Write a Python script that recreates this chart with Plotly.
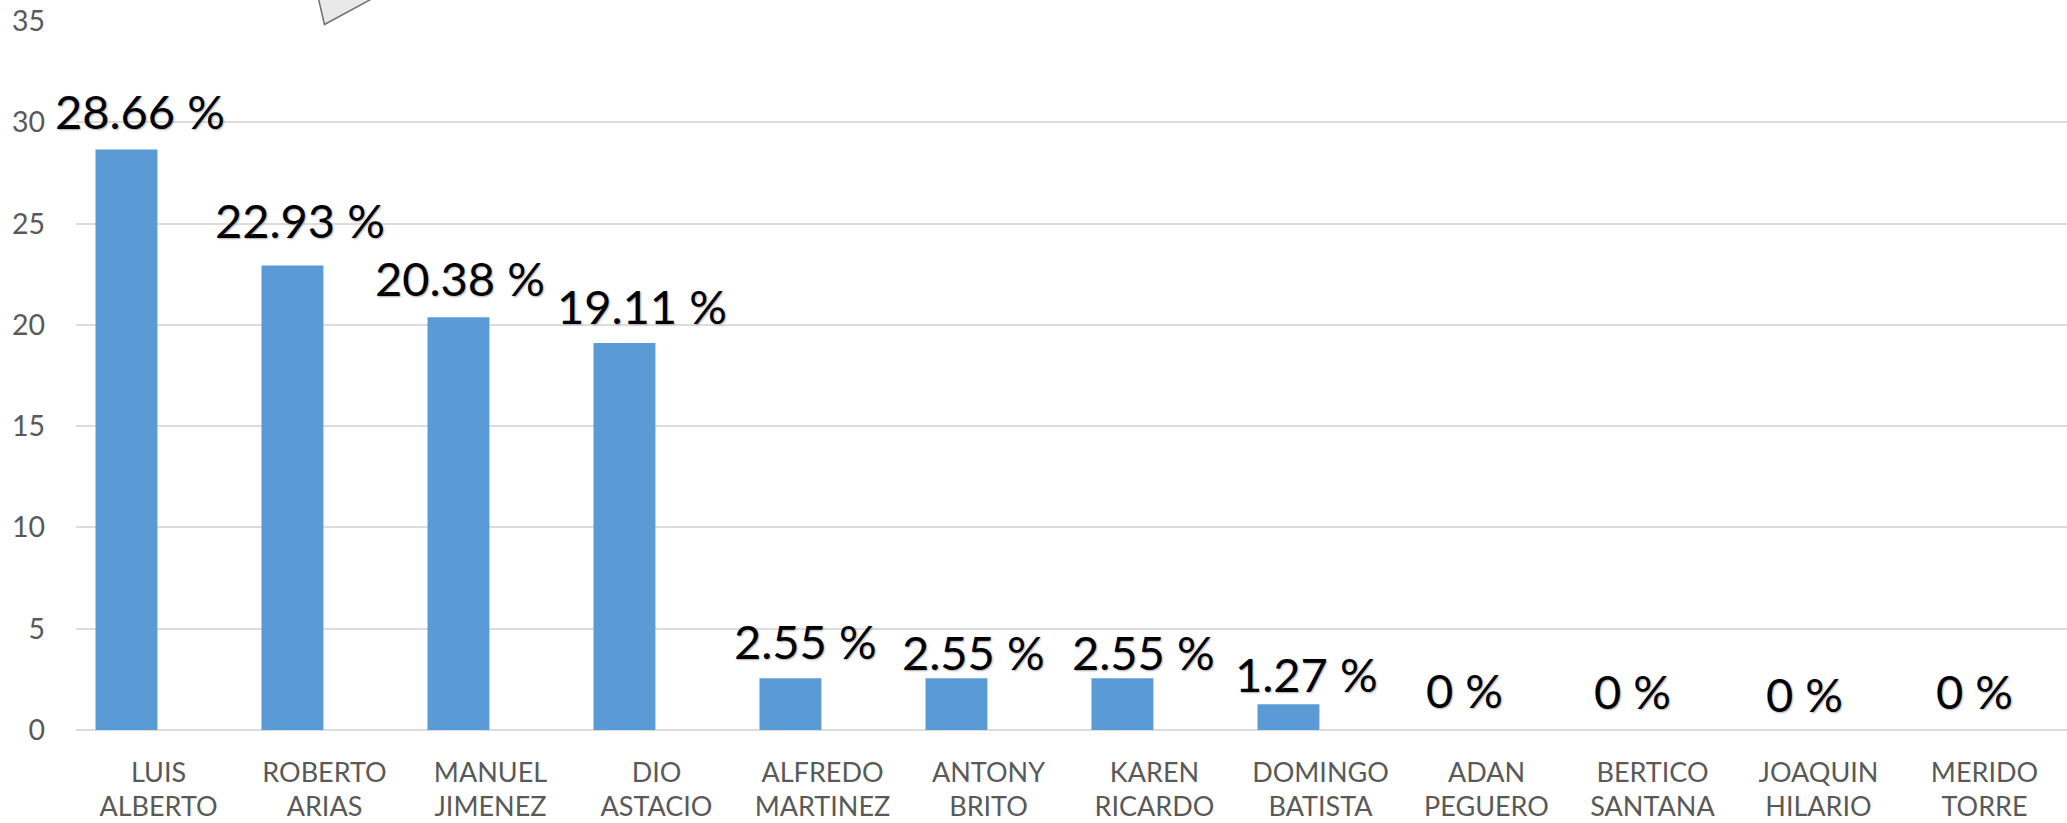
import plotly.graph_objects as go

first_line = ["LUIS", "ROBERTO", "MANUEL", "DIO", "ALFREDO", "ANTONY", "KAREN", "DOMINGO", "ADAN", "BERTICO", "JOAQUIN", "MERIDO"]
second_line = ["ALBERTO", "ARIAS", "JIMENEZ", "ASTACIO", "MARTINEZ", "BRITO", "RICARDO", "BATISTA", "PEGUERO", "SANTANA", "HILARIO", "TORRE"]
values = [28.66, 22.93, 20.38, 19.11, 2.55, 2.55, 2.55, 1.27, 0, 0, 0, 0]
labels = ["28.66 %", "22.93 %", "20.38 %", "19.11 %", "2.55 %", "2.55 %", "2.55 %", "1.27 %", "0 %", "0 %", "0 %", "0 %"]

# layout-only offsets (pixels)
lab_dx = [14, 7.5, 2, 18, 15, 17, 21, 18, 10, 12, 18, 22]
lab_dy = [38, 46, 39.5, 37, 37, 26.5, 26.5, 30.5, 40.5, 39, 36, 39]
TICK_OFFSET = 0.193
L, R, T, B = 75.5, 0, 20.5, 93
W, H = 2067, 823
positions = list(range(12))
tick_pos = [p + TICK_OFFSET for p in positions]
tick_font = dict(size=27, color="#595959")


def px(x, y):
    return (x - L) / (W - L - R), (H - B - y) / (H - B - T)


fig = go.Figure()
fig.add_trace(go.Bar(x=positions, y=values, width=0.373, marker=dict(color="#5B9BD5", line=dict(width=0))))
fig.add_trace(go.Scatter(x=[], y=[], xaxis="x2", showlegend=False))
for i, (v, t) in enumerate(zip(values, labels)):
    fig.add_annotation(x=i, y=v, text=t, showarrow=False, xshift=lab_dx[i], yshift=lab_dy[i], yanchor="middle",
                       font=dict(family="Lato", size=47, color="#000000", shadow="1px 1px 2px #aaa"))

corner = [px(318, -2), px(324, 24), px(372, -2)]
fig.add_shape(type="path", xref="paper", yref="paper", layer="above",
              path="M " + " L ".join(f"{a},{b}" for a, b in corner) + " Z",
              fillcolor="#E9E9E9", line=dict(color="#707070", width=1.5))

x_range = [-0.304, 11.69]
fig.update_layout(
    width=W, height=H, margin=dict(l=L, r=R, t=T, b=B, pad=0, autoexpand=False), paper_bgcolor="white", plot_bgcolor="white",
    showlegend=False, font=dict(family="Lato"),
    xaxis=dict(range=x_range, tickmode="array", tickvals=tick_pos, ticktext=first_line, showgrid=False, zeroline=False,
               ticks="", tickfont=tick_font, showline=False, ticklabelstandoff=24, tickangle=0, automargin=False),
    xaxis2=dict(range=x_range, overlaying="x", side="bottom", anchor="y", tickmode="array", tickvals=tick_pos,
                ticktext=second_line, showgrid=False, zeroline=False, ticks="", tickfont=tick_font, showline=False,
                ticklabelstandoff=58, tickangle=0, automargin=False),
    yaxis=dict(range=[0, 35], tick0=0, dtick=5, gridcolor="#DCDCDC", gridwidth=1.5, zeroline=True, zerolinecolor="#DCDCDC",
               zerolinewidth=2, ticks="", tickfont=dict(size=28.5, color="#595959"), ticklabelstandoff=30, automargin=False),
)
fig.write_html("out.html", config={"displayModeBar": False},
               post_script="document.body.style.margin='0';document.body.style.overflow='hidden';")
